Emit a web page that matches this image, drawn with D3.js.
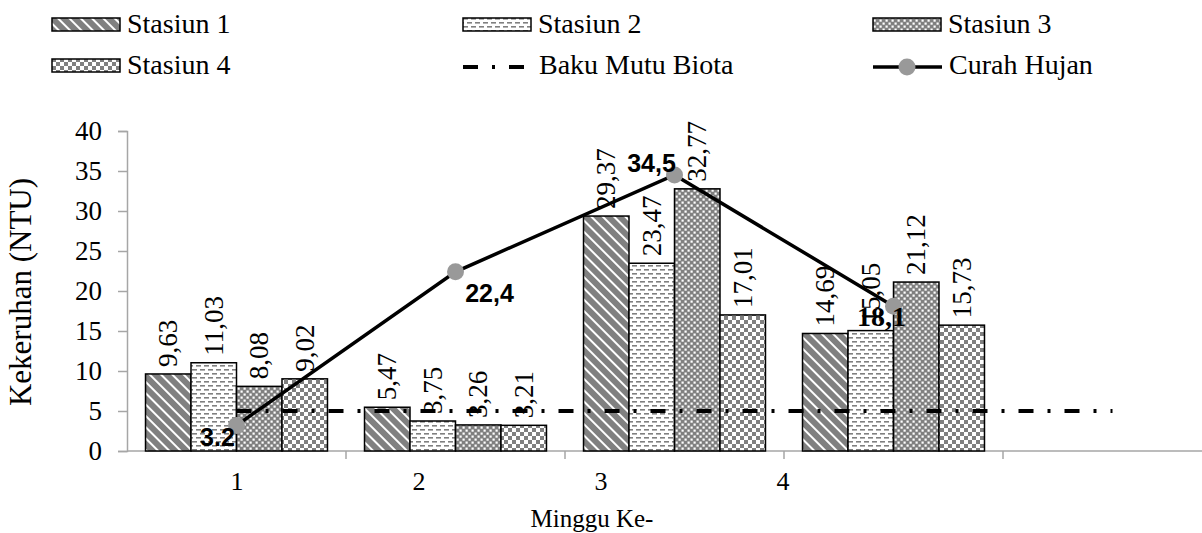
<!DOCTYPE html>
<html>
<head>
<meta charset="utf-8">
<script src="https://cdn.jsdelivr.net/npm/d3@7"></script>
<style>
  html, body { margin: 0; padding: 0; background: #fff; }
  svg { display: block; }
</style>
</head>
<body>
<svg id="chart" width="1202" height="533"></svg>
<script>
// Weekly turbidity per station, rainfall and the biota quality standard
const weeks = [1, 2, 3, 4, 5];
const weekLabels = ["1", "2", "3", "4"];
const stations = ["Stasiun 1", "Stasiun 2", "Stasiun 3", "Stasiun 4"];
const stasiun1 = [9.63, 5.47, 29.37, 14.69];
const stasiun2 = [11.03, 3.75, 23.47, 15.05];
const stasiun3 = [8.08, 3.26, 32.77, 21.12];
const stasiun4 = [9.02, 3.21, 17.01, 15.73];
const curahHujan = [3.2, 22.4, 34.5, 18.1];
const curahHujanLabels = ["3.2", "22,4", "34,5", "18,1"];
const bakuMutu = [5, 5, 5, 5, 5];
const yTicks = [0, 5, 10, 15, 20, 25, 30, 35, 40];

const seriesValues = [stasiun1, stasiun2, stasiun3, stasiun4];
const fmt = v => d3.format(".2f")(v).replace(".", ",");

const svg = d3.select("#chart");
const serif = "'Liberation Serif', 'Times New Roman', serif";
const sans = "'Liberation Sans', Arial, sans-serif";
const axisGrey = "#a6a6a6";
const grey = "#808080";

// ---- fill patterns ----
const defs = svg.append("defs");
function pattern(id, w, h, build, transform) {
  const p = defs.append("pattern").attr("id", id)
    .attr("patternUnits", "userSpaceOnUse").attr("width", w).attr("height", h);
  if (transform) p.attr("patternTransform", transform);
  build(p);
}
// diagonal stripes
pattern("pat1", 8, 8, p => {
  p.append("rect").attr("width", 8).attr("height", 8).attr("fill", grey);
  p.append("rect").attr("x", 0).attr("width", 2).attr("height", 8).attr("fill", "#fff");
}, "rotate(-45)");
// small horizontal dashes
pattern("pat2", 8, 8, p => {
  p.append("rect").attr("width", 8).attr("height", 8).attr("fill", "#fff");
  p.append("rect").attr("x", 0).attr("y", 1).attr("width", 5).attr("height", 1.6).attr("fill", grey);
  p.append("rect").attr("x", 4).attr("y", 5).attr("width", 4).attr("height", 1.6).attr("fill", grey);
  p.append("rect").attr("x", 0).attr("y", 5).attr("width", 1).attr("height", 1.6).attr("fill", grey);
});
// dark fine check
pattern("pat3", 6, 6, p => {
  p.append("rect").attr("width", 6).attr("height", 6).attr("fill", grey);
  p.append("rect").attr("x", 0.5).attr("y", 0.5).attr("width", 2.2).attr("height", 2.2).attr("fill", "#fff");
  p.append("rect").attr("x", 3.5).attr("y", 3.5).attr("width", 2.2).attr("height", 2.2).attr("fill", "#fff");
});
// checkerboard
pattern("pat4", 8, 8, p => {
  p.append("rect").attr("width", 8).attr("height", 8).attr("fill", "#fff");
  p.append("rect").attr("x", 0).attr("y", 0).attr("width", 4).attr("height", 4).attr("fill", grey);
  p.append("rect").attr("x", 4).attr("y", 4).attr("width", 4).attr("height", 4).attr("fill", grey);
});
const fills = ["url(#pat1)", "url(#pat2)", "url(#pat3)", "url(#pat4)"];

// ---- scales ----
const plotLeft = 127, step = 219;
const x = d3.scaleBand().domain(weeks).range([plotLeft, plotLeft + step * weeks.length]).padding(0);
const xs = d3.scaleBand().domain(stations).range([0, x.bandwidth()]).paddingInner(0).paddingOuter(0.407);
const xLabel = d3.scalePoint().domain(weekLabels).range([237, 783]);
const y = d3.scaleLinear().domain([0, 40]).range([451, 131]);

// ---- axes ----
const yAxis = svg.append("g").attr("transform", `translate(${plotLeft},0)`)
  .call(d3.axisLeft(y).tickValues(yTicks).tickSize(9).tickPadding(16));
yAxis.select(".domain").attr("stroke", axisGrey).attr("stroke-width", 1.5);
yAxis.selectAll(".tick line").attr("stroke", axisGrey).attr("stroke-width", 1.5);
yAxis.selectAll(".tick text").attr("font-family", serif).attr("font-size", 27).attr("fill", "#000");

const xAxisG = svg.append("g").attr("transform", `translate(0,${y(0)})`);
xAxisG.append("line").attr("x1", plotLeft).attr("x2", 1202).attr("stroke", axisGrey).attr("stroke-width", 1.5);
xAxisG.selectAll("line.tk").data(weeks.slice(1)).join("line").attr("class", "tk")
  .attr("x1", d => x(d)).attr("x2", d => x(d)).attr("y1", 0).attr("y2", 8)
  .attr("stroke", axisGrey).attr("stroke-width", 1.5);
svg.append("g").selectAll("text").data(weekLabels).join("text")
  .attr("x", d => xLabel(d)).attr("y", 490).attr("text-anchor", "middle")
  .attr("font-family", serif).attr("font-size", 26).text(d => d);

svg.append("text").attr("transform", "translate(31,292) rotate(-90)")
  .attr("text-anchor", "middle").attr("font-family", serif).attr("font-size", 31)
  .text("Kekeruhan (NTU)");
svg.append("text").attr("x", 592).attr("y", 527).attr("text-anchor", "middle")
  .attr("font-family", serif).attr("font-size", 25).text("Minggu Ke-");

// ---- bars ----
const barData = [];
seriesValues.forEach((vals, si) => vals.forEach((v, wi) => barData.push({ s: stations[si], si, w: weeks[wi], v })));
svg.append("g").selectAll("rect").data(barData).join("rect")
  .attr("x", d => x(d.w) + xs(d.s))
  .attr("y", d => y(d.v))
  .attr("width", xs.bandwidth())
  .attr("height", d => y(0) - y(d.v))
  .attr("fill", d => fills[d.si])
  .attr("stroke", "#000").attr("stroke-width", 1.5);

// ---- biota quality standard ----
const dashDot = "15 14 3 14";
svg.append("path").datum(bakuMutu)
  .attr("d", d3.line().x((d, i) => x(weeks[i]) + x.bandwidth() / 2).y(d => y(d)))
  .attr("fill", "none").attr("stroke", "#000").attr("stroke-width", 4)
  .attr("stroke-dasharray", dashDot);

// ---- bar value labels ----
svg.append("g").selectAll("text").data(barData).join("text")
  .attr("transform", d => `translate(${x(d.w) + xs(d.s) + xs.bandwidth() / 2},${y(d.v) - 7}) rotate(-90)`)
  .attr("dominant-baseline", "central")
  .attr("font-family", serif).attr("font-size", 27).text(d => fmt(d.v));

// ---- rainfall ----
const cx = i => x(weeks[i]) + x.bandwidth() / 2;
svg.append("path").datum(curahHujan)
  .attr("d", d3.line().x((d, i) => cx(i)).y(d => y(d)))
  .attr("fill", "none").attr("stroke", "#000").attr("stroke-width", 3.5);
svg.append("g").selectAll("circle").data(curahHujan).join("circle")
  .attr("cx", (d, i) => cx(i)).attr("cy", d => y(d)).attr("r", 8.5).attr("fill", "#999");

const rainLabelStyle = [
  { dx: -19, dy: 21, font: sans, size: 25 },
  { dx: 34, dy: 30, font: sans, size: 25 },
  { dx: -23, dy: -3, font: sans, size: 25 },
  { dx: -12, dy: 20, font: serif, size: 28 }
];
svg.append("g").selectAll("text").data(curahHujan).join("text")
  .attr("x", (d, i) => cx(i) + rainLabelStyle[i].dx)
  .attr("y", (d, i) => y(d) + rainLabelStyle[i].dy)
  .attr("text-anchor", "middle").attr("font-weight", "bold")
  .attr("font-family", (d, i) => rainLabelStyle[i].font)
  .attr("font-size", (d, i) => rainLabelStyle[i].size)
  .text((d, i) => curahHujanLabels[i]);

// ---- legend ----
const legendItems = [
  { name: "Stasiun 1", kind: "bar", fill: fills[0] },
  { name: "Stasiun 2", kind: "bar", fill: fills[1] },
  { name: "Stasiun 3", kind: "bar", fill: fills[2] },
  { name: "Stasiun 4", kind: "bar", fill: fills[3] },
  { name: "Baku Mutu Biota", kind: "dash" },
  { name: "Curah Hujan", kind: "line" }
];
const legendCols = [52, 463, 873];
const legendRows = [25, 66];
const lg = svg.append("g").selectAll("g").data(legendItems).join("g")
  .attr("transform", (d, i) => `translate(${legendCols[i % 3]},${legendRows[Math.floor(i / 3)]})`);
lg.filter(d => d.kind === "bar").append("rect")
  .attr("x", 0).attr("y", -7).attr("width", 68).attr("height", 13)
  .attr("fill", d => d.fill).attr("stroke", "#000").attr("stroke-width", 1.5);
lg.filter(d => d.kind === "dash").append("line")
  .attr("x1", 0).attr("x2", 62).attr("y1", 1).attr("y2", 1)
  .attr("stroke", "#000").attr("stroke-width", 4).attr("stroke-dasharray", dashDot);
const lineItem = lg.filter(d => d.kind === "line");
lineItem.append("line").attr("x1", 0).attr("x2", 69).attr("y1", 1).attr("y2", 1)
  .attr("stroke", "#000").attr("stroke-width", 3.5);
lineItem.append("circle").attr("cx", 34).attr("cy", 1).attr("r", 8.5).attr("fill", "#999");
lg.append("text")
  .attr("x", d => d.kind === "bar" ? 75 : 76)
  .attr("y", 8)
  .attr("font-family", serif).attr("font-size", 28).text(d => d.name);
</script>
</body>
</html>
